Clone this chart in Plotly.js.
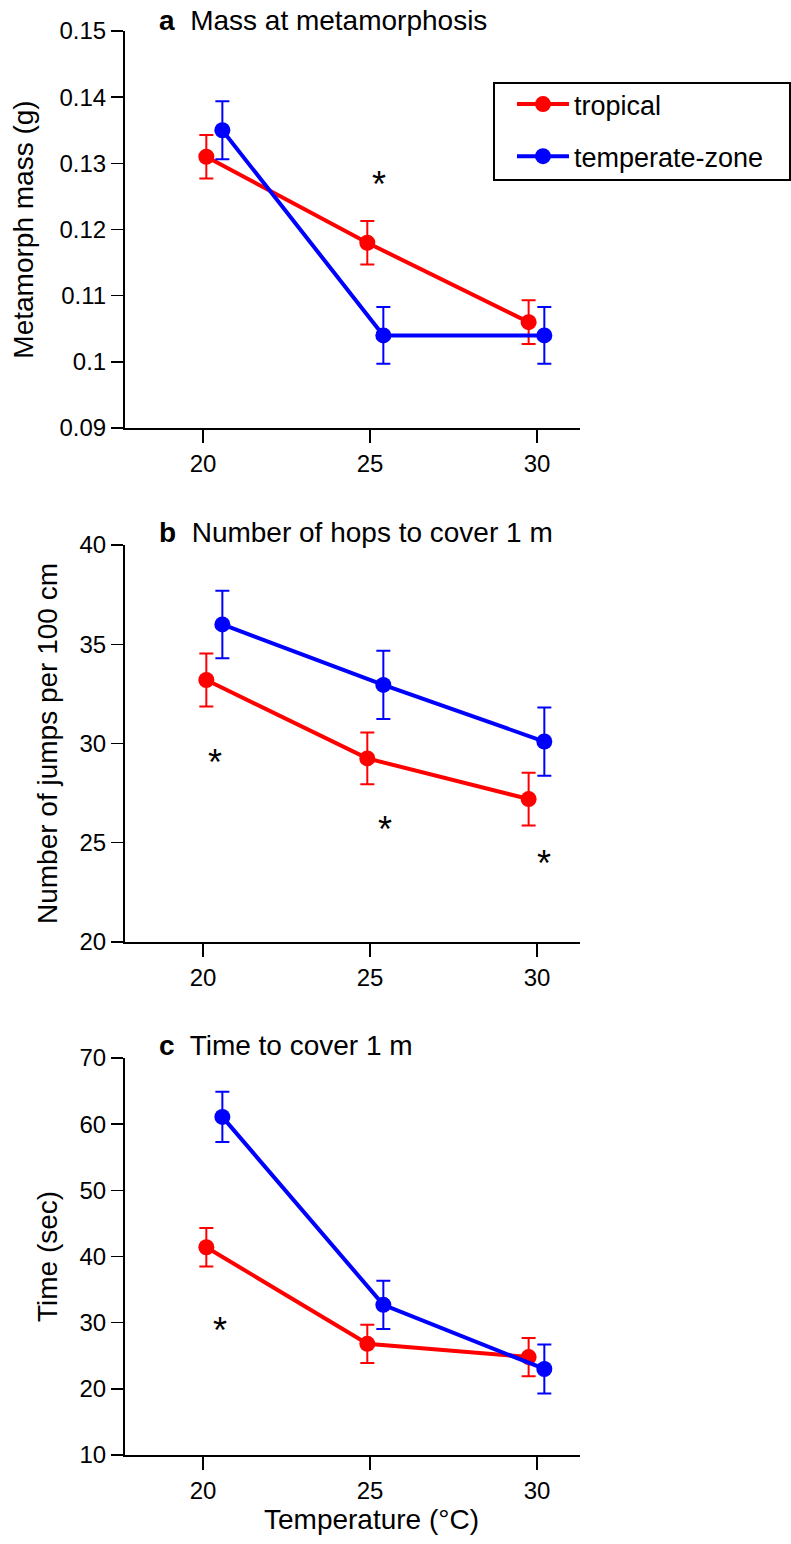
<!DOCTYPE html>
<html>
<head>
<meta charset="utf-8">
<script src="https://cdn.plot.ly/plotly-3.0.1.min.js"></script>
<style>html,body{margin:0;padding:0;background:#fff;}#chart{width:791px;height:1544px;}</style>
</head>
<body>
<div id="chart"></div>
<script>
// ---- data ----
var seriesNames = ["tropical", "temperate-zone"];
var tropicalX = [20.1, 24.92, 29.75];
var temperateX = [20.58, 25.4, 30.22];
var xTickVals = [20, 25, 30];
var xTickText = ["20", "25", "30"];

var massTropical = [0.131, 0.118, 0.106];
var massTropicalErr = [0.0033, 0.0033, 0.0033];
var massTemperate = [0.135, 0.104, 0.104];
var massTemperateErr = [0.0044, 0.0043, 0.0043];
var massTicks = [0.09, 0.10, 0.11, 0.12, 0.13, 0.14, 0.15];
var massTickText = ["0.09", "0.1", "0.11", "0.12", "0.13", "0.14", "0.15"];

var hopsTropical = [33.2, 29.25, 27.2];
var hopsTropicalErr = [1.33, 1.31, 1.33];
var hopsTemperate = [36.0, 32.95, 30.1];
var hopsTemperateErr = [1.7, 1.72, 1.72];
var hopsTicks = [20, 25, 30, 35, 40];

var timeTropical = [41.4, 26.8, 24.8];
var timeTropicalErr = [2.9, 2.9, 2.9];
var timeTemperate = [61.1, 32.7, 23.0];
var timeTemperateErr = [3.8, 3.65, 3.7];
var timeTicks = [10, 20, 30, 40, 50, 60, 70];

var panelTitles = ["<b>a</b>  Mass at metamorphosis", "<b>b</b>  Number of hops to cover 1 m", "<b>c</b>  Time to cover 1 m"];
var yTitles = ["Metamorph mass (g)", "Number of jumps per 100 cm", "Time (sec)"];
var xTitle = "Temperature (°C)";
// significance markers: [panel, x, y]
var starPanel = [1, 2, 2, 2, 3];
var starX = [25.27, 20.36, 25.45, 30.2, 20.5];
var starY = [0.1275, 29.27, 25.9, 24.18, 29.5];

// ---- styling ----
var RED = "#ff0000", BLUE = "#0000ff";
var FONT = "Liberation Sans, Arial, Helvetica, sans-serif";

function series(x, y, err, color, name, axisN, showLegend) {
  return {
    type: "scatter", mode: "lines+markers",
    x: x, y: y, name: name,
    legendgroup: name, showlegend: showLegend,
    xaxis: axisN === 1 ? "x" : "x" + axisN,
    yaxis: axisN === 1 ? "y" : "y" + axisN,
    line: {color: color, width: 4},
    marker: {color: color, size: 16},
    error_y: {type: "data", array: err, visible: true, color: color, thickness: 2, width: 7}
  };
}

var data = [
  series(tropicalX, massTropical, massTropicalErr, RED, seriesNames[0], 1, true),
  series(temperateX, massTemperate, massTemperateErr, BLUE, seriesNames[1], 1, true),
  series(tropicalX, hopsTropical, hopsTropicalErr, RED, seriesNames[0], 2, false),
  series(temperateX, hopsTemperate, hopsTemperateErr, BLUE, seriesNames[1], 2, false),
  series(tropicalX, timeTropical, timeTropicalErr, RED, seriesNames[0], 3, false),
  series(temperateX, timeTemperate, timeTemperateErr, BLUE, seriesNames[1], 3, false)
];

function xAxis(anchor) {
  return {
    anchor: anchor, range: [17.665, 31.288], tickvals: xTickVals, ticktext: xTickText,
    showline: true, linecolor: "#000", linewidth: 2, ticks: "outside", ticklen: 13,
    tickwidth: 1.5, tickcolor: "#000", showgrid: false, zeroline: false,
    tickfont: {family: FONT, size: 24, color: "#000"}, fixedrange: true
  };
}
function yAxis(anchor, domain, range, ticks, tickText, title, standoff) {
  return {
    anchor: anchor, domain: domain, range: range, tickvals: ticks, ticktext: tickText,
    showline: true, linecolor: "#000", linewidth: 2, ticks: "outside", ticklen: 12,
    tickwidth: 1.5, tickcolor: "#000", showgrid: false, zeroline: false,
    tickfont: {family: FONT, size: 24, color: "#000"}, fixedrange: true,
    title: {text: title, font: {family: FONT, size: 28, color: "#000"}, standoff: standoff}
  };
}

var annotations = [];
var titleY = [1.0077, 0.648, 0.2879];
for (var i = 0; i < panelTitles.length; i++) {
  annotations.push({
    text: panelTitles[i], xref: "paper", yref: "paper", x: 0.0703, y: titleY[i],
    xanchor: "left", yanchor: "middle", showarrow: false,
    font: {family: FONT, size: 28, color: "#000"}
  });
}
for (var j = 0; j < starX.length; j++) {
  var p = starPanel[j];
  annotations.push({
    text: "*", xref: p === 1 ? "x" : "x" + p, yref: p === 1 ? "y" : "y" + p,
    x: starX[j], y: starY[j], xanchor: "center", yanchor: "middle", showarrow: false,
    yshift: -5, font: {family: FONT, size: 36, color: "#000"}
  });
}
// x-axis title (bottom panel)
annotations.push({
  text: xTitle, xref: "paper", yref: "paper", x: 0.5407, y: -0.0456,
  xanchor: "center", yanchor: "middle", showarrow: false,
  font: {family: FONT, size: 28, color: "#000"}
});

var layout = {
  width: 791, height: 1544,
  margin: {l: 125, r: 211, t: 31, b: 89, pad: 0},
  paper_bgcolor: "#fff", plot_bgcolor: "#fff",
  showlegend: true,
  legend: {
    x: 0.8505, y: 0.9656, xanchor: "left", yanchor: "top",
    borderwidth: 0, bgcolor: "rgba(0,0,0,0)",
    font: {family: FONT, size: 27, color: "#000"},
    traceorder: "grouped", tracegroupgap: 14, itemwidth: 52
  },
  // legend frame
  shapes: [{
    type: "rect", xref: "paper", yref: "paper",
    x0: 0.811, x1: 1.4615, y0: 0.8954, y1: 0.9635,
    line: {color: "#000", width: 2}, fillcolor: "#fff", layer: "above"
  }],
  xaxis: xAxis("y"),
  xaxis2: xAxis("y2"),
  xaxis3: xAxis("y3"),
  yaxis: yAxis("x", [0.7212, 1], [0.09, 0.15], massTicks, massTickText, yTitles[0], 18),
  yaxis2: yAxis("x2", [0.3603, 0.6390], [20, 40], hopsTicks, hopsTicks.map(String), yTitles[1], 14),
  yaxis3: yAxis("x3", [0, 0.2788], [10, 70], timeTicks, timeTicks.map(String), yTitles[2], 14),
  annotations: annotations
};

Plotly.newPlot("chart", data, layout, {displayModeBar: false, staticPlot: true});
</script>
</body>
</html>
